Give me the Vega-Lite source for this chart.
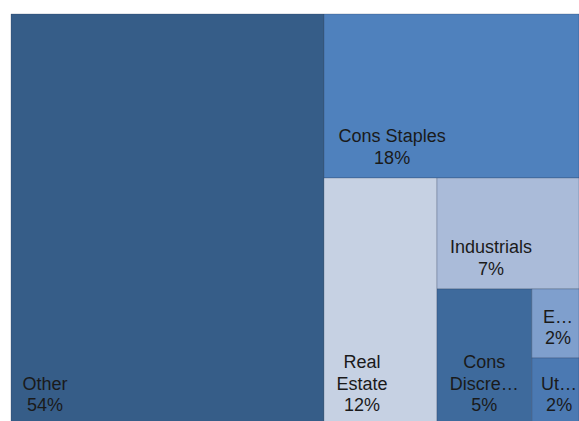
{
  "$schema": "https://vega.github.io/schema/vega-lite/v6.json",
  "width": 568,
  "height": 411,
  "autosize": {"type": "none"},
  "padding": {"left": 11, "top": 14, "right": 0, "bottom": 0},
  "background": "white",
  "view": {"stroke": null},
  "data": {
    "values": [
      {"sector": "Other", "name": "Other", "pct": "54%", "x0": 0, "x1": 0.551, "y0": 0, "y1": 1, "lx": 0.060},
      {"sector": "Cons Staples", "name": "Cons Staples", "pct": "18%", "x0": 0.551, "x1": 1.0, "y0": 0, "y1": 0.399, "lx": 0.671},
      {"sector": "Real Estate", "name": "Real\nEstate", "pct": "12%", "x0": 0.551, "x1": 0.750, "y0": 0.399, "y1": 1, "lx": 0.618},
      {"sector": "Industrials", "name": "Industrials", "pct": "7%", "x0": 0.750, "x1": 1.0, "y0": 0.399, "y1": 0.669, "lx": 0.845},
      {"sector": "Cons Discretionary", "name": "Cons\nDiscre…", "pct": "5%", "x0": 0.750, "x1": 0.917, "y0": 0.669, "y1": 1, "lx": 0.833},
      {"sector": "Energy", "name": "E…", "pct": "2%", "x0": 0.917, "x1": 1.0, "y0": 0.669, "y1": 0.837, "lx": 0.963},
      {"sector": "Utilities", "name": "Ut…", "pct": "2%", "x0": 0.917, "x1": 1.0, "y0": 0.837, "y1": 1, "lx": 0.965}
    ]
  },
  "encoding": {
    "x": {"field": "lx", "type": "quantitative", "scale": {"domain": [0, 1], "nice": false, "zero": false}, "axis": null},
    "y": {"field": "y1", "type": "quantitative", "scale": {"domain": [0, 1], "nice": false, "zero": false, "reverse": true}, "axis": null}
  },
  "layer": [
    {
      "mark": {"type": "rect", "stroke": "#1f3550", "strokeOpacity": 0.25, "strokeWidth": 1},
      "encoding": {
        "x": {"field": "x0", "type": "quantitative", "scale": {"domain": [0, 1], "nice": false, "zero": false}, "axis": null},
        "x2": {"field": "x1"},
        "y": {"field": "y0", "type": "quantitative", "scale": {"domain": [0, 1], "nice": false, "zero": false, "reverse": true}, "axis": null},
        "y2": {"field": "y1"},
        "color": {
          "field": "sector", "type": "nominal", "legend": null,
          "scale": {
            "domain": ["Other", "Cons Staples", "Real Estate", "Industrials", "Cons Discretionary", "Energy", "Utilities"],
            "range": ["#365D88", "#4F81BD", "#C6D1E3", "#AABBD9", "#3E6A9C", "#7F9FCD", "#4B79B2"]
          }
        }
      }
    },
    {
      "mark": {"type": "text", "align": "center", "baseline": "alphabetic", "dy": -14, "font": "Liberation Sans", "fontSize": 18, "color": "#1a1a1a"},
      "encoding": {
        "text": {"field": "pct", "type": "nominal"}
      }
    },
    {
      "transform": [{"filter": "indexof(datum.name, '\\n') < 0"}],
      "mark": {"type": "text", "align": "center", "baseline": "alphabetic", "dy": -35.5, "font": "Liberation Sans", "fontSize": 18, "color": "#1a1a1a"},
      "encoding": {
        "text": {"field": "name", "type": "nominal"}
      }
    },
    {
      "transform": [{"filter": "indexof(datum.name, '\\n') >= 0"}],
      "mark": {"type": "text", "align": "center", "baseline": "alphabetic", "dy": -57, "lineBreak": "\n", "lineHeight": 21.5, "font": "Liberation Sans", "fontSize": 18, "color": "#1a1a1a"},
      "encoding": {
        "text": {"field": "name", "type": "nominal"}
      }
    }
  ]
}
